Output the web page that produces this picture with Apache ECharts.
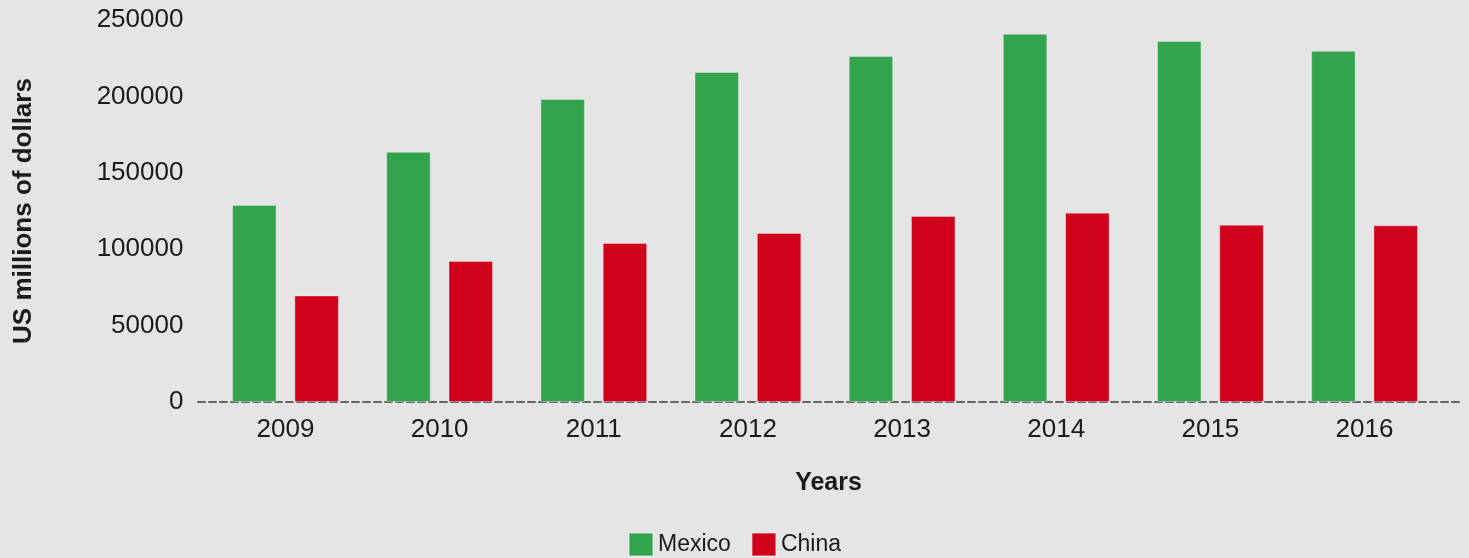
<!DOCTYPE html>
<html>
<head>
<meta charset="utf-8">
<script src="https://cdn.jsdelivr.net/npm/echarts@6/dist/echarts.min.js"></script>
<style>
html,body{margin:0;padding:0;background:#e5e5e5;}
#chart{width:1469px;height:558px;}
</style>
</head>
<body>
<div id="chart"></div>
<script>
var years = ['2009','2010','2011','2012','2013','2014','2015','2016'];
var mexico = [129000, 163700, 198300, 216000, 226400, 241000, 236300, 229900];
var china = [69700, 92300, 104000, 110600, 121700, 123900, 116000, 115600];
var yTicks = [0, 50000, 100000, 150000, 200000, 250000];

var FONT = '"Liberation Sans", Arial, sans-serif';
var chart = echarts.init(document.getElementById('chart'));
chart.setOption({
  backgroundColor: '#e5e5e5',
  animation: false,
  textStyle: {fontFamily: FONT},
  legend: {
    top: 527, left: 'center',
    icon: 'rect',
    itemWidth: 24, itemHeight: 23, itemGap: 20,
    textStyle: {fontSize: 23, color: '#1a1a1a', fontFamily: FONT},
    data: ['Mexico', 'China']
  },
  grid: [
    {left: 208.4, right: 27.4, top: 20, bottom: 156},
    {left: 198, right: 10, top: 20, bottom: 156}
  ],
  xAxis: [
    {
      type: 'category', gridIndex: 0, data: years,
      axisLine: {show: false}, axisTick: {show: false},
      axisLabel: {fontSize: 26, color: '#1a1a1a', margin: 15, fontFamily: FONT}
    },
    {
      type: 'value', gridIndex: 1, min: 0, max: 1,
      axisLine: {show: true, onZero: false, lineStyle: {color: '#666', width: 2, type: [7, 4]}},
      axisTick: {show: false}, axisLabel: {show: false}, splitLine: {show: false},
      name: 'Years', nameLocation: 'middle', nameGap: 69,
      nameTextStyle: {fontSize: 25, fontWeight: 'bold', color: '#1a1a1a', fontFamily: FONT}
    }
  ],
  yAxis: [
    {
      type: 'value', gridIndex: 0, min: yTicks[0], max: yTicks[yTicks.length - 1], interval: 50000,
      axisLine: {show: false}, axisTick: {show: false}, splitLine: {show: false},
      axisLabel: {
        fontSize: 26, color: '#1a1a1a', margin: 25, fontFamily: FONT,
        formatter: function (v) { return String(v); }
      },
      name: 'US millions of dollars', nameLocation: 'middle', nameGap: 172, nameRotate: 90,
      nameTextStyle: {fontSize: 26, fontWeight: 'bold', color: '#1a1a1a', fontFamily: FONT}
    },
    {type: 'value', gridIndex: 1, min: 0, max: 1, show: false}
  ],
  series: [
    {
      name: 'Mexico', type: 'bar', xAxisIndex: 0, yAxisIndex: 0, data: mexico,
      barWidth: 44.5, barGap: '40%',
      itemStyle: {color: '#33a34d', borderColor: 'rgba(255,255,255,0.35)', borderWidth: 1}
    },
    {
      name: 'China', type: 'bar', xAxisIndex: 0, yAxisIndex: 0, data: china,
      barWidth: 44.5, barGap: '40%',
      itemStyle: {color: '#d0021b', borderColor: 'rgba(255,255,255,0.35)', borderWidth: 1}
    }
  ]
});
</script>
</body>
</html>
